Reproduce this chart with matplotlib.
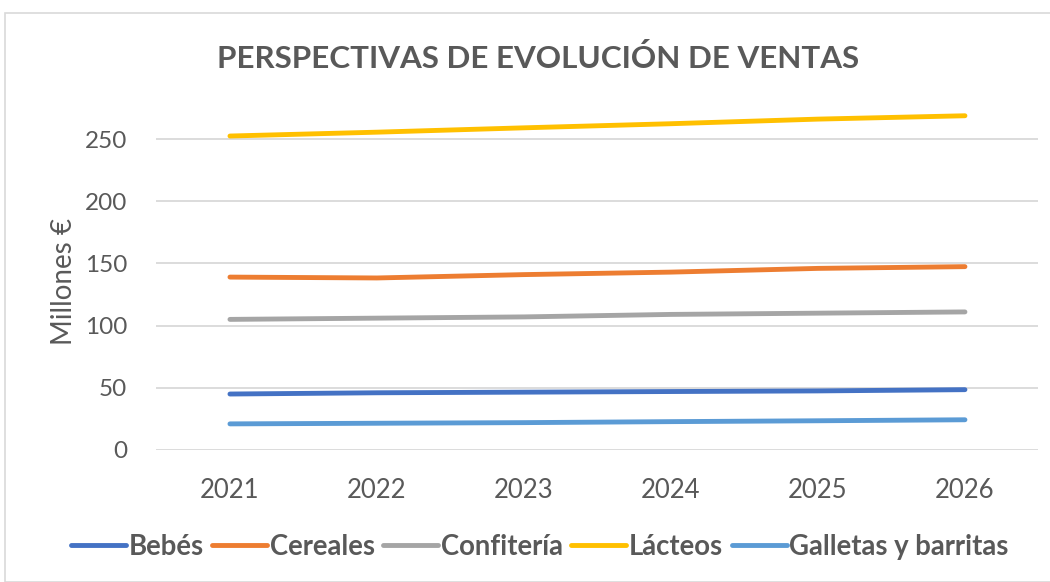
"""
Perspectivas de evolucion de ventas - line chart
"""
import matplotlib
matplotlib.use('Agg')
import matplotlib.pyplot as plt
import matplotlib.patches as mpatches

plt.rcParams['font.family'] = ['Lato', 'DejaVu Sans']

years = ['2021', '2022', '2023', '2024', '2025', '2026']
bebes = [45, 46, 46.5, 47, 47.5, 48.5]
cereales = [139, 138.3, 141, 143, 146, 147.4]
confiteria = [105, 106, 107, 109, 110, 111]
lacteos = [252.4, 255.5, 259, 262.3, 266, 268.7]
galletas = [21, 21.5, 22, 22.8, 23.5, 24.3]

SERIES = ['Bebés', 'Cereales', 'Confitería', 'Lácteos', 'Galletas y barritas']
VALUES = [bebes, cereales, confiteria, lacteos, galletas]
COLORS = ['#4472C4', '#ED7D31', '#A5A5A5', '#FFC000', '#5B9BD5']
TEXT_COLOR = '#595959'

fig = plt.figure(figsize=(10.5, 5.82), dpi=100)
# chart frame
fig.patches.append(mpatches.Rectangle((5 / 1050, 0), 1.1, 1 - 13 / 582, transform=fig.transFigure,
                                      fill=False, edgecolor='#D9D9D9', linewidth=1.2))

ax = fig.add_axes([0.149, 1 - 450 / 582, 0.84, (450 - 101.7) / 582])

x = list(range(len(years)))
for name, vals, c in zip(SERIES, VALUES, COLORS):
    ax.plot(x, vals, color=c, linewidth=3.5, solid_capstyle='round', label=name)

ax.set_xlim(-0.5, 5.5)
ax.set_ylim(0, 280)
ax.set_yticks([0, 50, 100, 150, 200, 250])
ax.set_xticks(x)
ax.set_xticklabels(years)
ax.grid(axis='y', color='#D9D9D9', linewidth=1.3)
ax.set_axisbelow(True)
for s in ax.spines.values():
    s.set_visible(False)
ax.tick_params(length=0, labelcolor=TEXT_COLOR)
ax.tick_params(axis='x', pad=20, labelsize=18.5)
ax.tick_params(axis='y', pad=21, labelsize=17.5)
ax.set_ylabel('Millones €', fontsize=20, color=TEXT_COLOR)
ax.yaxis.set_label_coords(-0.090, 0.5 - (282 - 276) / 348)

fig.text(538 / 1050, 1 - 58 / 582, 'PERSPECTIVAS DE EVOLUCIÓN DE VENTAS', ha='center', va='center',
         fontsize=22.6, fontweight='bold', color=TEXT_COLOR)

leg = fig.legend(loc='center', bbox_to_anchor=(540 / 1050, 1 - 547 / 582), ncol=5, frameon=False,
                 fontsize=19.8, handlelength=2.0, handletextpad=0.1, columnspacing=0.3)
for t in leg.get_texts():
    t.set_color(TEXT_COLOR)
    t.set_fontweight('bold')

fig.savefig('out.png', dpi=100)
